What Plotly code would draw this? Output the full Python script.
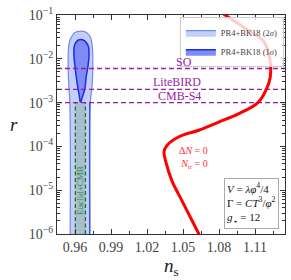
import math
import plotly.graph_objects as go

# ---------------- data ----------------
ns_range = [0.945, 1.135]
logr_range = [-6, -1]

# PR4+BK18 2-sigma contour (ns, r)
ns_2sig = [0.9560, 0.9557, 0.9548, 0.9543, 0.9543, 0.9551, 0.9571, 0.9599, 0.9646,
           0.9695, 0.9728, 0.9741, 0.9748, 0.9748, 0.9743, 0.9730, 0.9723, 0.9723]
r_2sig = [1e-6, 1e-3, 2.5e-3, 6e-3, 1.2e-2, 2.24e-2, 3.16e-2, 4.0e-2, 4.3e-2,
          4.0e-2, 3.16e-2, 2.24e-2, 1.2e-2, 6e-3, 2.5e-3, 1.2e-3, 5e-4, 1e-6]

# PR4+BK18 1-sigma contour (ns, r)
ns_1sig = [0.9646, 0.9635, 0.9626, 0.9610, 0.9599, 0.9591, 0.9592, 0.9605, 0.9625, 0.9648,
           0.9672, 0.9697, 0.9714, 0.9717, 0.9709, 0.9694, 0.9681, 0.9660, 0.9646]
r_1sig = [1e-3, 1.5e-3, 2e-3, 4e-3, 7e-3, 1.2e-2, 1.8e-2, 2.3e-2, 2.65e-2, 2.75e-2,
          2.65e-2, 2.3e-2, 1.8e-2, 1.2e-2, 7e-3, 4e-3, 2e-3, 1.3e-3, 1e-3]

# Euclid+CMB forecast band
euclid_ns = [0.9603, 0.9687]
euclid_r = [1e-6, 1e-3]

# future experiment sensitivities
exp_names = ["SO", "LiteBIRD", "CMB-S4"]
exp_r = [6e-3, 2e-3, 1e-3]
exp_label_ns = [1.0507, 1.0450, 1.0474]

# model prediction (Delta N = 0, N_tr = 0)
curve_ns = [1.0838, 1.0962, 1.1086, 1.1168, 1.1214, 1.1230, 1.1226, 1.1196, 1.1127, 1.0962,
            1.0797, 1.0631, 1.0466, 1.0370, 1.0342, 1.0356, 1.0408, 1.0491, 1.0574, 1.0650]
curve_r = [0.1052, 0.0628, 0.0375, 0.0261, 0.01337, 0.00719, 0.00367, 0.00205, 0.00101, 5.52e-4,
           3.60e-4, 2.34e-4, 1.66e-4, 1.08e-4, 7.64e-5, 4.56e-5, 1.63e-5, 5.78e-6, 2.06e-6, 8e-7]

x_ticks = [0.96, 0.99, 1.02, 1.05, 1.08, 1.11]
x_ticklabels = ["0.96", "0.99", "1.02", "1.05", "1.08", "1.11"]
y_ticks = [1e-6, 1e-5, 1e-4, 1e-3, 1e-2, 1e-1]
y_ticklabels = ["10<sup>−6</sup>", "10<sup>−5</sup>", "10<sup>−4</sup>",
                "10<sup>−3</sup>", "10<sup>−2</sup>", "10<sup>−1</sup>"]
y_minor_ticks = [m * d for d in y_ticks[:-1] for m in range(2, 10)]

FONT = "Liberation Serif"
AX = "#333333"

fig = go.Figure()

# 2 sigma
fig.add_trace(go.Scatter(
    x=ns_2sig, y=r_2sig, mode="lines", fill="toself", line_shape="spline",
    fillcolor="rgb(196,206,247)", line=dict(color="rgb(110,140,240)", width=1.2),
    name="PR4+BK18 (2<i>σ</i>)", hoverinfo="skip"))
# 1 sigma
fig.add_trace(go.Scatter(
    x=ns_1sig, y=r_1sig, mode="lines", fill="toself", line_shape="spline",
    fillcolor="rgb(128,140,246)", line=dict(color="rgb(25,45,230)", width=1.5),
    name="PR4+BK18 (1<i>σ</i>)", hoverinfo="skip"))
# Euclid band fill
fig.add_trace(go.Scatter(
    x=[euclid_ns[0], euclid_ns[1], euclid_ns[1], euclid_ns[0], euclid_ns[0]],
    y=[euclid_r[0], euclid_r[0], euclid_r[1], euclid_r[1], euclid_r[0]],
    mode="lines", fill="toself", fillcolor="rgb(166,190,205)",
    line=dict(width=0), showlegend=False, hoverinfo="skip"))
for xv in euclid_ns:
    fig.add_trace(go.Scatter(
        x=[xv, xv], y=euclid_r, mode="lines",
        line=dict(color="rgb(35,115,40)", width=1.3, dash="4px,2.5px"),
        showlegend=False, hoverinfo="skip"))
# right blue edge of the strip
fig.add_trace(go.Scatter(
    x=[ns_2sig[-1], ns_2sig[-1]], y=[r_2sig[-1], 1e-3], mode="lines",
    line=dict(color="rgb(40,70,235)", width=1.2), showlegend=False, hoverinfo="skip"))

# experiment lines
for name, rv in zip(exp_names, exp_r):
    fig.add_trace(go.Scatter(
        x=ns_range, y=[rv, rv], mode="lines",
        line=dict(color="rgb(150,30,165)", width=1.3, dash="5px,3px"),
        showlegend=False, hoverinfo="skip"))

# model curve
fig.add_trace(go.Scatter(
    x=curve_ns, y=curve_r, mode="lines", line_shape="spline",
    line=dict(color="#ff0000", width=3), showlegend=False, hoverinfo="skip"))

annotations = []
for name, rv, xv in zip(exp_names, exp_r, exp_label_ns):
    annotations.append(dict(x=xv, y=math.log10(rv), xref="x", yref="y", text=name,
                            showarrow=False, yanchor="bottom", yshift=-2,
                            font=dict(family=FONT, size=12, color="rgb(150,30,165)")))
annotations.append(dict(x=0.9646, y=-5.0, xref="x", yref="y", text="Euclid+CMB",
                        textangle=-90, showarrow=False,
                        font=dict(family=FONT, size=9, color="rgb(40,140,50)")))
annotations.append(dict(x=1.0725, y=-4.27, xref="x", yref="y",
                        text="Δ<i>N</i> = 0<br><i>N</i><sub>tr</sub> = 0",
                        showarrow=False, xanchor="right", align="right",
                        font=dict(family=FONT, size=10, color="#ff3030")))
annotations.append(dict(x=0.972, y=0.022, xref="paper", yref="paper",
                        text="<i>V</i> = <i>λφ</i><sup>4</sup>/4<br>Γ = <i>CT</i><sup>3</sup>/<i>φ</i><sup>2</sup><br><i>g</i><sub>⋆</sub> = 12",
                        showarrow=False, xanchor="right", yanchor="bottom", align="left",
                        bordercolor="#aaaaaa", borderwidth=1, borderpad=2, bgcolor="white",
                        font=dict(family=FONT, size=11, color="#111")))
# axis titles
annotations.append(dict(x=0.5, y=-0.152, xref="paper", yref="paper",
                        text="<i>n</i><sub>s</sub>", showarrow=False,
                        xanchor="center", yanchor="middle",
                        font=dict(family=FONT, size=19, color="#222")))
annotations.append(dict(x=-0.19, y=0.5, xref="paper", yref="paper",
                        text="<i>r</i>", showarrow=False,
                        xanchor="center", yanchor="middle",
                        font=dict(family=FONT, size=19, color="#222")))

fig.update_layout(
    width=291, height=280,
    margin=dict(l=57, r=5, t=11, b=46),
    paper_bgcolor="white", plot_bgcolor="white",
    font=dict(family=FONT, size=14, color="#444"),
    showlegend=True,
    legend=dict(x=0.995, y=0.99, xanchor="right", yanchor="top",
                bgcolor="rgba(255,255,255,0.8)", bordercolor="#cccccc", borderwidth=1,
                font=dict(family=FONT, size=8.5, color="#444"),
                itemwidth=30, tracegroupgap=0),
    annotations=annotations,
)
fig.update_xaxes(
    range=ns_range, tickvals=x_ticks, ticktext=x_ticklabels,
    showline=True, linecolor=AX, linewidth=1, mirror="ticks",
    ticks="inside", ticklen=5, tickcolor=AX, showgrid=False, zeroline=False,
    minor=dict(ticks="inside", ticklen=3, tickcolor=AX, dtick=0.015, showgrid=False),
    tickfont=dict(family=FONT, size=14, color="#444"))
fig.update_yaxes(
    type="log", range=logr_range, tickvals=y_ticks, ticktext=y_ticklabels,
    showline=True, linecolor=AX, linewidth=1, mirror="ticks",
    ticks="inside", ticklen=5, tickcolor=AX, showgrid=False, zeroline=False,
    minor=dict(ticks="inside", ticklen=3, tickcolor=AX, showgrid=False,
               tickmode="array", tickvals=y_minor_ticks),
    tickfont=dict(family=FONT, size=14, color="#444"))

fig.write_html("out.html", config={"displayModeBar": False},
               post_script="document.body.style.margin='0px';document.body.style.overflow='hidden';")
